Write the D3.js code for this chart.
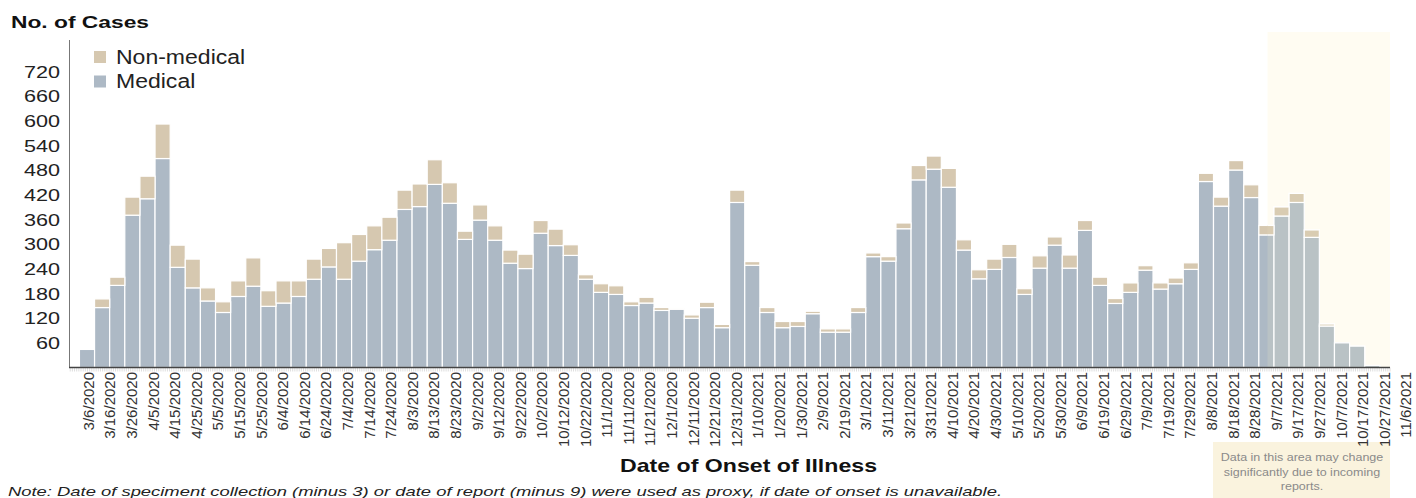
<!DOCTYPE html>
<html>
<head>
<meta charset="utf-8">
<script src="https://cdn.jsdelivr.net/npm/d3@7"></script>
<style>
  html, body { margin: 0; padding: 0; background: #fff; }
  svg { display: block; font-family: "Liberation Sans", Arial, sans-serif; }
</style>
</head>
<body>
<svg id="chart" width="1416" height="498"></svg>
<script>
// weekly bins, first one on 3/6/2020
const firstWeek = new Date(Date.UTC(2020, 2, 6));

const medical = [
  44, 146, 200, 371, 411, 509, 244, 194, 162, 134,
  173, 198, 149, 157, 173, 215, 245, 215, 259, 287,
  310, 385, 392, 446, 400, 312, 359, 310, 254, 241,
  327, 297, 273, 215, 183, 178, 151, 157, 139, 142,
  120, 146, 97, 402, 249, 134, 97, 100, 131, 86,
  86, 134, 270, 259, 338, 457, 483, 439, 286, 216,
  239, 268, 178, 242, 298, 242, 334, 200, 156, 183,
  237, 191, 204, 239, 453, 393, 481, 414, 323, 369,
  402, 317, 101, 60, 52, 5
];

const nonMedical = [
  0, 21, 20, 44, 55, 84, 54, 70, 32, 26,
  38, 69, 38, 54, 38, 49, 45, 89, 65, 58,
  56, 47, 55, 60, 50, 20, 37, 35, 32, 35,
  31, 40, 26, 11, 21, 21, 9, 14, 7, 3,
  8, 13, 8, 30, 9, 12, 15, 12, 6, 8,
  8, 12, 9, 11, 14, 35, 32, 46, 25, 22,
  25, 32, 14, 30, 20, 32, 24, 20, 12, 23,
  11, 15, 14, 16, 20, 22, 23, 31, 23, 22,
  22, 18, 5, 0, 0, 0
];

const yTicks = [60, 120, 180, 240, 300, 360, 420, 480, 540, 600, 660, 720];
const legendItems = [
  { key: "Non-medical", color: "#d6c8b0" },
  { key: "Medical", color: "#adb9c5" }
];
const shadeFrom = new Date(Date.UTC(2021, 8, 3, 12)); // incomplete-data window
const boxLines = ["Data in this area may change", "significantly due to incoming", "reports."];
const noteText = "Note: Date of speciment collection (minus 3) or date of report (minus 9) were used as proxy, if date of onset is unavailable.";

const svg = d3.select("#chart");
const colorMed = "#adb9c5", colorNon = "#d6c8b0";
const shadeMed = "#b9c2c5", shadeNon = "#d9ccb2";

// stretch text horizontally (the source picture is a bit wide)
function widen(sel, k) {
  sel.each(function() {
    const w = this.getComputedTextLength();
    d3.select(this).attr("textLength", w * k).attr("lengthAdjust", "spacingAndGlyphs");
  });
}

const weeks = d3.utcDay.range(firstWeek, d3.utcDay.offset(firstWeek, 7 * medical.length), 7);
const rows = weeks.map((d, i) => ({ date: d, med: medical[i], non: nonMedical[i] }));

const x = d3.scaleUtc()
  .domain([d3.utcHour.offset(firstWeek, -200), d3.utcHour.offset(firstWeek, 603 * 24 + 5)])
  .range([69, 1390]);
const y = d3.scaleLinear().domain([0, 720]).range([367.5, 71.9]);
const pitch = x(d3.utcDay.offset(firstWeek, 7)) - x(firstWeek);

// title
svg.append("text")
  .attr("x", 11).attr("y", 28)
  .attr("font-size", 17).attr("font-weight", "bold").attr("fill", "#111")
  .text("No. of Cases")
  .attr("textLength", 138).attr("lengthAdjust", "spacingAndGlyphs");

// y axis
svg.append("line")
  .attr("x1", 69.5).attr("x2", 69.5).attr("y1", 40).attr("y2", 367.5)
  .attr("stroke", "#777").attr("stroke-width", 1);

svg.append("g").selectAll("text")
  .data(yTicks)
  .join("text")
  .attr("x", 60).attr("y", d => y(d)).attr("dy", "0.35em")
  .attr("text-anchor", "end").attr("font-size", 17).attr("fill", "#222")
  .text(d => d)
  .call(widen, 1.27);

// shaded area background
const shadeX = x(shadeFrom);
svg.append("rect")
  .attr("x", shadeX).attr("y", 32)
  .attr("width", 1390 - shadeX).attr("height", 367.5 - 32)
  .attr("fill", "#fffcf2");

svg.append("clipPath").attr("id", "shade-clip")
  .append("rect")
  .attr("x", shadeX).attr("y", 0)
  .attr("width", 1390 - shadeX).attr("height", 367.5);

function drawBars(g, cMed, cNon) {
  g.selectAll("rect.med")
    .data(rows)
    .join("rect")
    .attr("class", "med")
    .attr("x", d => x(d.date) - pitch / 2)
    .attr("width", pitch)
    .attr("y", d => y(d.med))
    .attr("height", d => y(0) - y(d.med))
    .attr("fill", cMed)
    .attr("stroke", "#fff").attr("stroke-width", 1.2);

  g.selectAll("rect.non")
    .data(rows.filter(d => d.non > 0))
    .join("rect")
    .attr("class", "non")
    .attr("x", d => x(d.date) - pitch / 2)
    .attr("width", pitch)
    .attr("y", d => y(d.med + d.non))
    .attr("height", d => y(d.med) - y(d.med + d.non))
    .attr("fill", cNon)
    .attr("stroke", "#fff").attr("stroke-width", 1.2);
}

drawBars(svg.append("g"), colorMed, colorNon);
// same bars again, lighter, inside the shaded window
drawBars(svg.append("g").attr("clip-path", "url(#shade-clip)"), shadeMed, shadeNon);

// x axis: daily minor ticks + line
const minor = svg.append("g")
  .attr("transform", "translate(0,367.5)")
  .call(d3.axisBottom(x).ticks(d3.utcDay.every(1)).tickSize(4).tickFormat(""));
minor.select(".domain").remove();
minor.selectAll("line").attr("stroke", "#c8c8c8").attr("stroke-width", 0.6);

svg.append("line")
  .attr("x1", 69).attr("x2", 1390).attr("y1", 367.5).attr("y2", 367.5)
  .attr("stroke", "#444").attr("stroke-width", 1.3);

// note box (drawn before labels so labels sit on top)
svg.append("rect")
  .attr("x", 1213).attr("y", 442).attr("width", 177).attr("height", 56)
  .attr("fill", "#faf3de");

svg.append("g").selectAll("text")
  .data(boxLines)
  .join("text")
  .attr("x", 1302).attr("y", (d, i) => 461 + i * 14.5)
  .attr("text-anchor", "middle").attr("font-size", 10).attr("fill", "#8a8a8a")
  .text(d => d)
  .call(widen, 1.25);

// x tick labels every 10 days
const labelDates = d3.utcDay.range(firstWeek, new Date(Date.UTC(2021, 10, 7)), 10);
const fmt = d3.utcFormat("%-m/%-d/%Y");
svg.append("g").selectAll("text")
  .data(labelDates)
  .join("text")
  .attr("transform", d => `translate(${x(d) + 1.5},372) rotate(-90)`)
  .attr("dy", "0.35em")
  .attr("text-anchor", "end").attr("font-size", 15).attr("fill", "#333")
  .text(d => fmt(d));

// legend
const leg = svg.append("g").selectAll("g")
  .data(legendItems)
  .join("g")
  .attr("transform", (d, i) => `translate(94,${51 + i * 24.5})`);
leg.append("rect").attr("width", 12).attr("height", 12).attr("fill", d => d.color);
leg.append("text")
  .attr("x", 22).attr("y", 12.5)
  .attr("font-size", 19.5).attr("fill", "#222")
  .text(d => d.key)
  .call(widen, 1.18);

// x title and note
svg.append("text")
  .attr("x", 620).attr("y", 472)
  .attr("font-size", 19).attr("font-weight", "bold").attr("fill", "#111")
  .text("Date of Onset of Illness")
  .attr("textLength", 257).attr("lengthAdjust", "spacingAndGlyphs");

svg.append("text")
  .attr("x", 8).attr("y", 496)
  .attr("font-size", 13).attr("font-style", "italic").attr("fill", "#222")
  .text(noteText)
  .attr("textLength", 994).attr("lengthAdjust", "spacingAndGlyphs");
</script>
</body>
</html>
